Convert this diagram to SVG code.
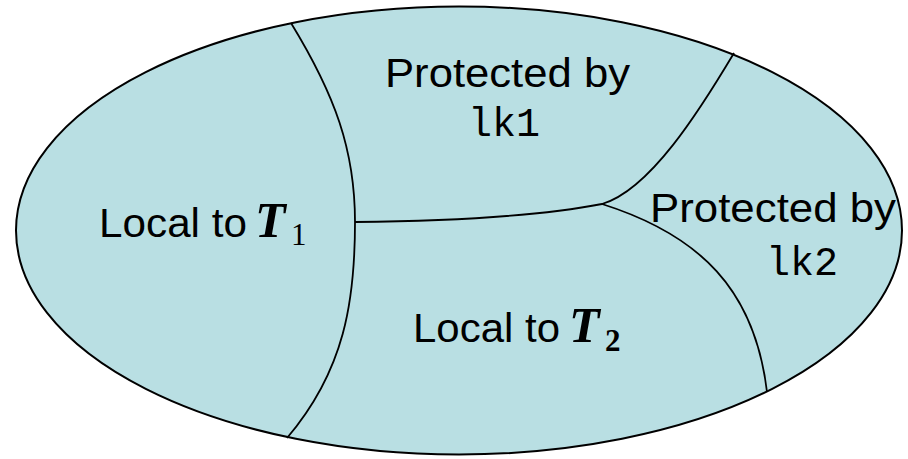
<svg xmlns="http://www.w3.org/2000/svg" width="908" height="459" viewBox="0 0 908 459">
<style>
.region{fill:#b9dfe3;stroke:#000;stroke-width:2}
.div{fill:none;stroke:#000;stroke-width:1.8}
.lbl{font-family:"Liberation Sans",Arial,sans-serif;font-size:41px;fill:#000}
.mono{font-family:"Liberation Mono","Courier New",monospace;font-size:40px;fill:#000}
.math{font-family:"Liberation Serif","Times New Roman",serif;font-style:italic;font-weight:bold;font-size:50px;fill:#000}
.sub{font-family:"Liberation Serif","Times New Roman",serif;font-size:31px;fill:#000}
</style>
<g id="set">
<ellipse class="region" cx="459" cy="230.5" rx="443" ry="224"/>
</g>
<g id="connectors">
<path class="div" d="M291,23 C335,95 355,150 355,222 C355,300 345,370 287,438"/>
<path class="div" d="M355,222 C450,221 540,216 602,204 C650,190 700,110 734,53"/>
<path class="div" d="M602,204 C700,235 755,290 767,392"/>
</g>
<g id="local-t1">
<text class="lbl" x="99" y="237" textLength="148" lengthAdjust="spacingAndGlyphs">Local to</text>
<text class="math" x="255" y="237">T</text>
<text class="sub" x="291" y="245">1</text>
</g>
<g id="local-t2">
<text class="lbl" x="413" y="342" textLength="147" lengthAdjust="spacingAndGlyphs">Local to</text>
<text class="math" x="569" y="342">T</text>
<text class="sub" x="605" y="351" font-weight="bold">2</text>
</g>
<g id="lk1-region">
<text class="lbl" x="385" y="87" textLength="245" lengthAdjust="spacingAndGlyphs">Protected by</text>
<text class="mono" x="468" y="136">lk1</text>
</g>
<g id="lk2-region">
<text class="lbl" x="650" y="222" textLength="246" lengthAdjust="spacingAndGlyphs">Protected by</text>
<text class="mono" x="766" y="275">lk2</text>
</g>
</svg>
